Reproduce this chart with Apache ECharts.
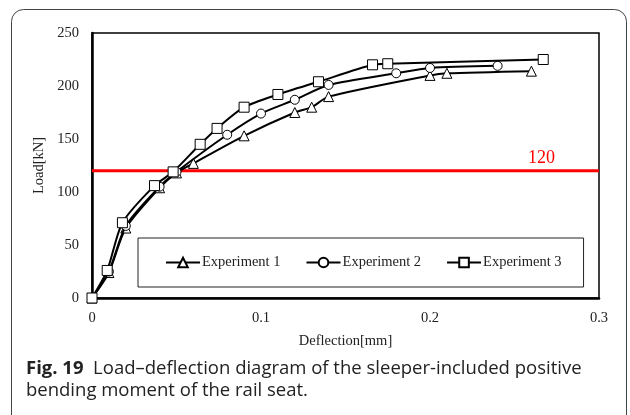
<!DOCTYPE html>
<html>
<head>
<meta charset="utf-8">
<script src="https://cdn.jsdelivr.net/npm/echarts@6/dist/echarts.min.js"></script>
<style>
  html, body { margin: 0; padding: 0; background: #fff; }
  #chart { width: 630px; height: 415px; }
</style>
</head>
<body>
<div id="chart"></div>
<script>
// Load–deflection measurements for the three test specimens
const exp1Deflection = [0, 0.01, 0.02, 0.04, 0.05, 0.06, 0.09, 0.12, 0.13, 0.14, 0.20, 0.21, 0.26];
const exp1Load       = [0, 24, 66, 104, 118, 127, 153, 175, 180, 190, 210, 212, 214];

const exp2Deflection = [0, 0.01, 0.02, 0.04, 0.05, 0.08, 0.10, 0.12, 0.14, 0.18, 0.20, 0.24];
const exp2Load       = [0, 25, 68, 105, 119, 154, 174, 187, 201, 212, 217, 219];

const exp3Deflection = [0, 0.009, 0.018, 0.037, 0.048, 0.064, 0.074, 0.09, 0.11, 0.134, 0.166, 0.175, 0.267];
const exp3Load       = [0, 26, 71, 106, 119, 145, 160, 180, 192, 204, 220, 221, 225];

const seriesNames = ['Experiment 1', 'Experiment 2', 'Experiment 3'];
const seriesSymbols = ['triangle', 'circle', 'rect'];

// Reference load level
const referenceLoad = 120;
const referenceSpan = [0, 0.266, 0.3];

const xTicks = [0, 0.1, 0.2, 0.3];
const yTicks = [0, 50, 100, 150, 200, 250];

const serif = '"Liberation Serif", "Times New Roman", serif';
const sans = '"Open Sans", "Noto Sans", sans-serif';

function pairs(xs, ys) {
  return xs.map((x, i) => [x, ys[i]]);
}

const curves = [
  pairs(exp1Deflection, exp1Load),
  pairs(exp2Deflection, exp2Load),
  pairs(exp3Deflection, exp3Load)
];

const chart = echarts.init(document.getElementById('chart'), null, { renderer: 'canvas' });

const lineSeries = curves.map((data, i) => ({
  name: seriesNames[i],
  type: 'line',
  data: data,
  smooth: 0.25,
  symbol: seriesSymbols[i],
  symbolSize: seriesSymbols[i] === 'circle' ? 9 : 10,
  showAllSymbol: true,
  lineStyle: { color: '#000', width: 2 },
  itemStyle: { color: '#fff', borderColor: '#000', borderWidth: 1 },
  z: 3 + i,
  animation: false
}));

const refSeries = {
  name: 'ref',
  type: 'line',
  data: referenceSpan.map((x, i) => ({
    value: [x, referenceLoad],
    label: i === 1 ? {
      show: true,
      position: 'top',
      distance: 4,
      formatter: String(referenceLoad),
      color: '#ff0000',
      fontFamily: serif,
      fontSize: 18
    } : { show: false }
  })),
  symbol: 'circle',
  symbolSize: 0,
  showAllSymbol: true,
  itemStyle: { color: '#ff0000' },
  lineStyle: { color: '#ff0000', width: 3 },
  silent: true,
  z: 2,
  animation: false
};

chart.setOption({
  backgroundColor: '#fff',
  animation: false,
  grid: {
    left: 92, right: 31, top: 33, bottom: 117,
    show: true, borderColor: '#000', borderWidth: 1.5
  },
  xAxis: {
    type: 'value',
    min: xTicks[0], max: xTicks[xTicks.length - 1], interval: 0.1,
    name: 'Deflection[mm]',
    nameLocation: 'middle',
    nameGap: 36,
    nameTextStyle: { fontFamily: serif, fontSize: 14.5, color: '#222' },
    axisLine: { show: true, lineStyle: { color: '#000', width: 2.5 } },
    axisTick: { show: false },
    splitLine: { show: false },
    axisLabel: {
      margin: 13, fontFamily: serif, fontSize: 14.5, color: '#222',
      formatter: v => String(+v.toFixed(1))
    }
  },
  yAxis: {
    type: 'value',
    min: yTicks[0], max: yTicks[yTicks.length - 1], interval: 50,
    name: 'Load[kN]',
    nameLocation: 'middle',
    nameGap: 38,
    nameTextStyle: { fontFamily: serif, fontSize: 14.5, color: '#222' },
    axisLine: { show: true, lineStyle: { color: '#000', width: 2.5 } },
    axisTick: { show: false },
    splitLine: { show: false },
    axisLabel: { margin: 13, fontFamily: serif, fontSize: 14.5, color: '#222' }
  },
  legend: {
    data: seriesNames,
    left: 138, top: 238,
    padding: [17, 22, 17, 27],
    itemGap: 25,
    itemWidth: 34,
    itemHeight: 12,
    borderColor: '#222',
    borderWidth: 1,
    textStyle: { fontFamily: serif, fontSize: 14.5, color: '#222', padding: [0, 0, 0, -3] }
  },
  graphic: [
    {
      type: 'rect',
      shape: { x: 11.5, y: 9.5, width: 615, height: 420, r: 12 },
      style: { fill: 'none', stroke: '#444', lineWidth: 1 },
      silent: true,
      z: -1
    },
    {
      type: 'text',
      left: 26, top: 358,
      style: {
        text: '{b|Fig. 19}  Load\u2013deflection diagram of the sleeper-included positive\nbending moment of the rail seat.',
        fontFamily: sans,
        fontSize: 18.5,
        lineHeight: 22,
        fill: '#222',
        rich: {
          b: { fontWeight: 'bold', fontFamily: sans, fontSize: 18.5, lineHeight: 22, fill: '#222' }
        }
      }
    }
  ],
  series: [refSeries].concat(lineSeries)
});
</script>
</body>
</html>
